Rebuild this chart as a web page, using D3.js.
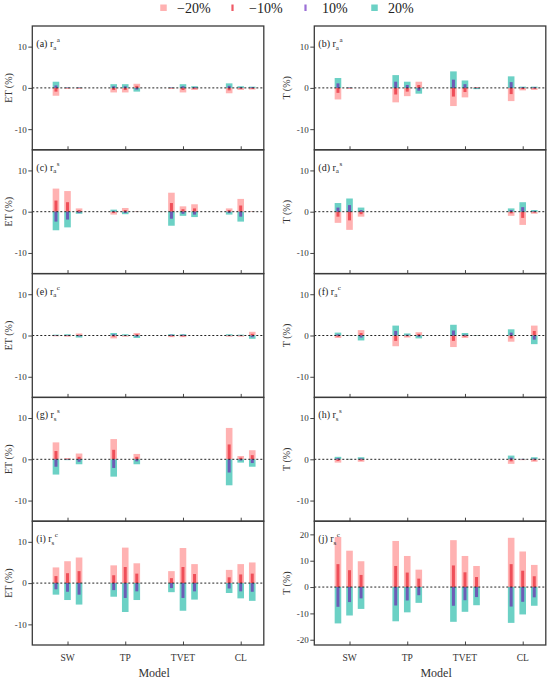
<!DOCTYPE html>
<html>
<head>
<meta charset="utf-8">
<script src="https://cdn.jsdelivr.net/npm/d3@7"></script>
<style>
  body { margin: 0; background: #fff; }
  svg text { font-family: "Liberation Serif", "Times New Roman", "DejaVu Serif", serif; }
</style>
</head>
<body>
<div id="chart"></div>
<script>
// models on the x axis, 3 bars per model
const models = ["SW", "TP", "TVET", "CL"];
const levels = ["\u221220%", "\u221210%", "10%", "20%"];
const colors = ["#FFB2B2", "#EF4F59", "#6C5CB6", "#6CD1C5"];
const legendColors = ["#FFB2B2", "#EF5A66", "#9B6FD6", "#6CD1C5"];
const yTicks = [-10, 0, 10];
const yTicksJ = [-20, -10, 0, 10, 20];

// each row: [-20%, -10%, 10%, 20%], rows = SW1..3, TP1..3, TVET1..3, CL1..3
const etRaA = [
  [-1.9, -0.9, 0.6, 1.5], [-0.2, -0.1, 0.1, 0.1], [-0.2, -0.1, 0.1, 0.1],
  [-1.1, -0.5, 0.4, 0.9], [-1.1, -0.5, 0.4, 0.9], [1.0, 0.5, -0.4, -0.9],
  [-0.2, -0.1, 0.1, 0.1], [-1.1, -0.5, 0.4, 0.9], [-0.5, -0.2, 0.2, 0.4],
  [-1.3, -0.6, 0.5, 1.1], [-0.5, -0.2, 0.2, 0.4], [-0.4, -0.2, 0.2, 0.3]
];
const tRaA = [
  [-2.8, -1.2, 1.1, 2.4], [-0.2, -0.1, 0.1, 0.1], [0, 0, 0, 0],
  [-3.5, -1.6, 1.5, 3.1], [-2.0, -0.9, 0.7, 1.5], [1.5, 0.7, -0.7, -1.4],
  [-4.4, -2.1, 2.0, 4.0], [-2.3, -1.0, 0.9, 1.8], [0.2, 0.1, -0.1, -0.3],
  [-3.2, -1.5, 1.4, 2.8], [-0.6, -0.3, 0.2, 0.3], [-0.5, -0.2, 0.2, 0.3]
];
const etRaS = [
  [5.6, 2.7, -2.4, -4.5], [5.0, 2.3, -1.9, -3.8], [0.8, 0.4, -0.3, -0.5],
  [-0.7, -0.3, 0.2, 0.5], [0.9, 0.4, -0.3, -0.6], [0.1, 0.05, 0, -0.05],
  [4.6, 2.1, -1.7, -3.4], [1.3, 0.6, -0.5, -1.0], [1.8, 0.8, -0.7, -1.3],
  [0.8, 0.4, -0.3, -0.7], [3.1, 1.5, -1.2, -2.4], [0.1, 0.05, 0, -0.05]
];
const tRaS = [
  [-2.7, -1.2, 1.0, 2.1], [-4.4, -2.1, 1.6, 3.2], [-1.2, -0.6, 0.4, 1.0],
  [0, 0, 0, 0], [0, 0, 0, 0], [0, 0, 0, 0],
  [0, 0, 0, 0], [0, 0, 0, 0], [0, 0, 0, 0],
  [-1.0, -0.4, 0.4, 0.8], [-3.2, -1.5, 1.1, 2.3], [-0.5, -0.2, 0.2, 0.4]
];
const etRaC = [
  [-0.2, -0.1, 0.1, 0.2], [-0.3, -0.1, 0.1, 0.3], [0.5, 0.2, -0.2, -0.5],
  [-0.7, -0.3, 0.3, 0.6], [-0.3, -0.1, 0.1, 0.3], [0.6, 0.3, -0.3, -0.6],
  [-0.4, -0.2, 0.2, 0.3], [-0.4, -0.2, 0.2, 0.3], [0, 0, 0, 0],
  [-0.3, -0.1, 0.1, 0.3], [-0.3, -0.1, 0.1, 0.2], [0.9, 0.4, -0.4, -0.8]
];
const tRaC = [
  [-0.6, -0.3, 0.3, 0.7], [-0.1, 0, 0, 0.1], [1.3, 0.6, -0.5, -1.2],
  [-2.6, -1.3, 1.1, 2.4], [-0.5, -0.2, 0.2, 0.5], [0.8, 0.4, -0.3, -0.7],
  [-2.8, -1.3, 1.2, 2.6], [-0.6, -0.3, 0.2, 0.6], [-0.1, 0, 0, 0.1],
  [-1.5, -0.7, 0.7, 1.5], [0, 0, 0, 0], [2.4, 1.1, -1.0, -2.1]
];
const etRsS = [
  [4.1, 2.0, -1.8, -3.7], [0.3, 0.1, -0.1, -0.2], [1.4, 0.6, -0.6, -1.2],
  [4.9, 2.3, -2.1, -4.2], [0, 0, 0, 0], [1.3, 0.6, -0.5, -1.2],
  [0, 0, 0, 0], [0, 0, 0, 0], [0, 0, 0, 0],
  [7.6, 3.6, -3.2, -6.3], [0.8, 0.4, -0.3, -0.8], [2.2, 1.0, -0.9, -1.8]
];
const tRsS = [
  [-0.8, -0.4, 0.3, 0.6], [-0.1, 0, 0, 0.1], [-0.6, -0.3, 0.2, 0.5],
  [0, 0, 0, 0], [0, 0, 0, 0], [0, 0, 0, 0],
  [0, 0, 0, 0], [0, 0, 0, 0], [0, 0, 0, 0],
  [-1.1, -0.5, 0.4, 0.9], [-0.2, -0.1, 0.1, 0.1], [-0.6, -0.3, 0.2, 0.5]
];
const etRsC = [
  [3.8, 1.7, -1.5, -2.8], [5.3, 2.4, -2.1, -4.1], [6.2, 2.9, -2.8, -5.2],
  [4.3, 1.9, -1.7, -3.3], [8.6, 3.9, -3.6, -7.0], [4.8, 2.3, -2.0, -4.1],
  [2.9, 1.2, -1.2, -2.2], [8.5, 3.9, -3.6, -6.7], [4.6, 2.2, -2.0, -4.0],
  [3.2, 1.4, -1.3, -2.4], [4.6, 2.1, -2.0, -3.7], [5.0, 2.3, -2.1, -4.3]
];
const tRsC = [
  [19.0, 8.7, -7.5, -13.8], [13.8, 6.4, -5.7, -10.8], [9.8, 4.6, -4.3, -8.3],
  [17.5, 8.0, -7.0, -13.0], [11.8, 5.5, -5.1, -9.6], [6.6, 3.2, -3.1, -6.0],
  [17.8, 8.2, -7.1, -13.2], [11.8, 5.6, -5.0, -9.4], [8.0, 3.8, -3.8, -6.9],
  [18.7, 8.7, -7.4, -13.6], [13.5, 6.2, -5.6, -10.4], [8.4, 4.1, -3.9, -7.1]
];

const panels = [
  { tag: "a", sub: "a", sup: "a", ylab: "ET (%)", data: etRaA },
  { tag: "b", sub: "a", sup: "a", ylab: "T (%)", data: tRaA },
  { tag: "c", sub: "a", sup: "s", ylab: "ET (%)", data: etRaS },
  { tag: "d", sub: "a", sup: "s", ylab: "T (%)", data: tRaS },
  { tag: "e", sub: "a", sup: "c", ylab: "ET (%)", data: etRaC },
  { tag: "f", sub: "a", sup: "c", ylab: "T (%)", data: tRaC },
  { tag: "g", sub: "s", sup: "s", ylab: "ET (%)", data: etRsS },
  { tag: "h", sub: "s", sup: "s", ylab: "T (%)", data: tRsS },
  { tag: "i", sub: "s", sup: "c", ylab: "ET (%)", data: etRsC },
  { tag: "j", sub: "s", sup: "c", ylab: "T (%)", data: tRsC }
];

const W = 550, H = 680;
const colLeft = [32.3, 314.3];
const plotW = 231.5;
const top0 = 26, panelH = 123.8;
const serif = "'Liberation Serif', 'Times New Roman', serif";

const svg = d3.select("#chart").append("svg")
  .attr("width", W).attr("height", H)
  .attr("font-family", serif);

// legend
const legendPos = [
  { x: 163.5, w: 6.5, tx: 177 },
  { x: 232.5, w: 2.2, tx: 249 },
  { x: 305.5, w: 2.2, tx: 322 },
  { x: 374.5, w: 6.5, tx: 388 }
];
levels.forEach((lv, i) => {
  const p = legendPos[i];
  svg.append("rect")
    .attr("x", p.x - p.w / 2).attr("y", 4.5)
    .attr("width", p.w).attr("height", 6.5)
    .attr("fill", legendColors[i]);
  svg.append("text")
    .attr("x", p.tx).attr("y", 12.5)
    .style("font-family", serif)
    .style("font-size", "14px")
    .style("fill", "#222")
    .text(lv);
});

const x = d3.scaleLinear().domain([-0.61, 3.4]).range([0, plotW]);
const barOffset = 0.2;
const wideW = 6.6, narrowW = 3;

panels.forEach((p, k) => {
  const col = k % 2, row = Math.floor(k / 2);
  const gx = colLeft[col], gy = top0 + row * panelH;
  const isJ = p.tag === "j";
  const y = d3.scaleLinear()
    .domain(isJ ? [-22, 25] : [-15, 15])
    .range([panelH, 0]);

  const g = svg.append("g").attr("transform", `translate(${gx},${gy})`);

  // bars: wide -20% and 20% first, narrow -10% and 10% on top
  const order = [0, 3, 1, 2];
  order.forEach(li => {
    const bw = (li === 0 || li === 3) ? wideW : narrowW;
    g.selectAll(null)
      .data(p.data)
      .enter()
      .append("rect")
      .attr("x", (d, i) => x(Math.floor(i / 3) + (i % 3 - 1) * barOffset) - bw / 2)
      .attr("y", d => y(Math.max(0, d[li])))
      .attr("width", bw)
      .attr("height", d => Math.abs(y(d[li]) - y(0)))
      .attr("fill", colors[li]);
  });

  // zero line
  g.append("line")
    .attr("x1", 0).attr("x2", plotW)
    .attr("y1", y(0)).attr("y2", y(0))
    .attr("stroke", "#222")
    .attr("stroke-width", 1)
    .attr("stroke-dasharray", "2,2");

  // y axis
  const yAxis = g.append("g")
    .call(d3.axisLeft(y).tickValues(isJ ? yTicksJ : yTicks).tickSize(4).tickFormat(d => d));
  yAxis.attr("font-family", serif);
  yAxis.select(".domain").remove();
  yAxis.selectAll(".tick line").attr("stroke", "#444");
  yAxis.selectAll(".tick text")
    .attr("x", -5.5)
    .style("font-family", serif)
    .style("font-size", "9px")
    .style("fill", "#333");

  // x ticks, pointing inward from bottom border
  const xAxis = g.append("g")
    .attr("transform", `translate(0,${panelH})`)
    .call(d3.axisBottom(x).tickValues([0, 1, 2, 3]).tickSize(-3.5).tickFormat(""));
  xAxis.select(".domain").remove();
  xAxis.selectAll(".tick line").attr("stroke", "#444");

  // frame
  g.append("rect")
    .attr("x", 0).attr("y", 0)
    .attr("width", plotW).attr("height", panelH)
    .attr("fill", "none")
    .attr("stroke", "#3a3a3a")
    .attr("stroke-width", 1.3);

  // panel label
  const lab = g.append("text")
    .attr("x", 4).attr("y", 21)
    .style("font-family", serif)
    .style("font-size", "10px")
    .style("fill", "#222");
  lab.append("tspan").text(`(${p.tag}) r`);
  lab.append("tspan").attr("dy", 2.5).style("font-size", "7px").text(p.sub);
  lab.append("tspan").attr("dy", -7.5).attr("dx", 0.5).style("font-size", "7px").text(p.sup);

  // y label
  g.append("text")
    .attr("transform", `translate(${col === 0 ? 12 - gx : 290 - gx},${panelH / 2}) rotate(-90)`)
    .attr("text-anchor", "middle")
    .style("font-family", serif)
    .style("font-size", "10px")
    .style("fill", "#333")
    .text(p.ylab);

  // bottom row: model labels and axis title
  if (row === 4) {
    g.selectAll(null)
      .data(models)
      .enter()
      .append("text")
      .attr("x", (d, i) => x(i))
      .attr("y", panelH + 16.5)
      .attr("text-anchor", "middle")
      .style("font-family", serif)
      .style("font-size", "9.5px")
      .style("fill", "#333")
      .text(d => d);
    g.append("text")
      .attr("x", x(1.5))
      .attr("y", panelH + 32)
      .attr("text-anchor", "middle")
      .style("font-family", serif)
      .style("font-size", "12px")
      .style("fill", "#333")
      .text("Model");
  }
});
</script>
</body>
</html>
